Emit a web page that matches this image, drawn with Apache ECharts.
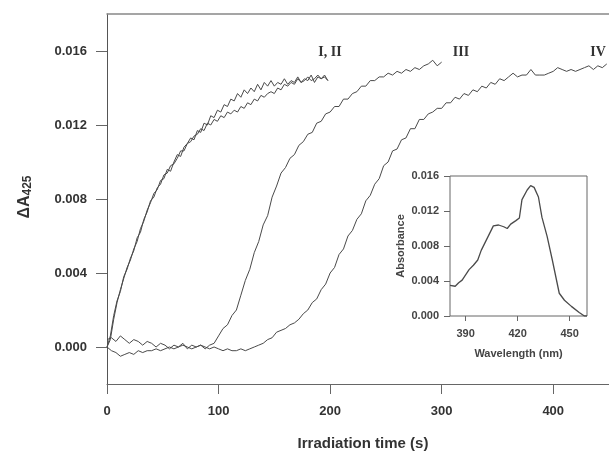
<!DOCTYPE html>
<html>
<head>
<meta charset="utf-8">
<script src="https://cdn.jsdelivr.net/npm/echarts@6/dist/echarts.min.js"></script>
<style>html,body{margin:0;padding:0;background:#fff}#c{width:609px;height:459px}</style>
</head>
<body>
<div id="c"></div>
<script>
// Main kinetics (delta A425, in units of 1e-4), sampled every STEP seconds
const STEP_I = 3;
const curveI = [0,4,15,24,31,37,43,47,53,57,
  64,68,74,78,83,85,90,91,96,95,
  100,104,103,108,110,113,112,117,116,121,
  120,125,124,128,127,131,130,134,133,137,
  135,139,137,140,138,142,139,143,141,144,
  141,143,142,145,142,144,143,146,143,145,
  144,147,143,146,145,147,144];
const curveII = [0,6,17,25,30,38,42,48,52,59,
  62,69,73,79,81,86,88,93,94,98,
  99,102,106,106,110,111,114,115,118,117,
  121,120,123,122,125,124,127,126,128,127,
  130,129,132,131,134,133,136,135,137,138,
  137,140,139,142,141,143,142,145,143,144,
  146,144,145,147,145,146,144];
const STEP_III = 4;
const curveIII = [4,5,3,6,4,2,4,3,1,3,
  2,0,2,1,-1,1,0,2,-1,1,
  0,1,-1,1,2,6,10,12,17,20,
  28,36,42,51,57,66,71,81,87,94,
  97,102,104,109,111,115,116,121,122,126,
  127,130,130,134,134,137,138,141,141,144,
  144,146,146,148,147,149,148,150,149,151,
  150,152,153,155,152,154];
const STEP_IV = 4;
const curveIV = [0,-2,-3,-5,-4,-3,-4,-2,-3,-2,
  -2,-1,-2,-1,0,-1,0,1,0,-1,
  0,1,0,-1,0,-1,-2,-1,-2,-2,
  -1,-2,-1,0,1,2,4,5,8,9,
  10,12,13,15,18,20,24,26,31,34,
  40,43,50,53,60,63,69,72,79,82,
  88,91,98,100,106,107,112,113,118,118,
  123,123,126,127,129,129,132,132,135,134,
  137,136,139,138,141,140,143,142,145,144,
  146,148,146,147,147,150,147,147,147,148,
  149,151,150,149,150,149,150,151,152,150,
  152,151,153];

// Inset spectrum
const wavelengths = [381,384,386,388,390,392,394.5,397,399,401,403,406,409,412,414,416,419,421,422.5,425.5,427.5,429.5,432,434,437,440,444,447,451,455.5,458.5,460];
const absorbance = [0.0035,0.0034,0.0038,0.0041,0.0047,0.0053,0.0058,0.0064,0.0075,0.0083,0.0091,0.0103,0.0104,0.0102,0.0100,0.0105,0.0109,0.0112,0.0133,0.0144,0.0149,0.0147,0.0136,0.0113,0.0091,0.0064,0.0026,0.0018,0.0011,0.0004,0.0000,0.0000];

const mainYTicks = [0, 0.004, 0.008, 0.012, 0.016];
const mainXTicks = [0, 100, 200, 300, 400];
const insetYTicks = [0, 0.004, 0.008, 0.012, 0.016];
const insetXTicks = [390, 420, 450];

function toPairs(arr, step){ return arr.map((v,i)=>[i*step, v/10000]); }

const FONT = 'Liberation Sans, Arial, sans-serif';
const lineCol = '#4a4a4a';
const chart = echarts.init(document.getElementById('c'));
const lineSeries = (data, xi, yi, w) => ({
  type:'line', data, xAxisIndex: xi, yAxisIndex: yi, showSymbol:false, symbol:'none',
  lineStyle:{color: lineCol, width: w}, silent:true, animation:false, z: 3
});

chart.setOption({
  animation:false,
  backgroundColor:'#fff',
  grid:[
    {left:107, top:14, right:0, bottom:75, show:false},
    {left:450, top:176, width:137, height:140, show:true, borderColor:'#666', borderWidth:1, backgroundColor:'#fff', z:4}
  ],
  xAxis:[
    {gridIndex:0, type:'value', min:0, max:450, position:'bottom',
      axisLine:{show:true, onZero:false, lineStyle:{color:'#666', width:1}},
      axisTick:{show:true, length:10, customValues: mainXTicks, lineStyle:{color:'#666'}},
      axisLabel:{customValues: mainXTicks, margin:21, fontFamily:FONT, fontWeight:'bold', fontSize:13, color:'#333'},
      splitLine:{show:false},
      name:'Irradiation time (s)', nameLocation:'middle', nameGap:52,
      nameTextStyle:{fontFamily:FONT, fontWeight:'bold', fontSize:15, color:'#333', padding:[0,0,0,10]}
    },
    {gridIndex:0, type:'value', min:0, max:450, position:'top',
      axisLine:{show:true, onZero:false, lineStyle:{color:'#888', width:1.5}},
      axisTick:{show:false}, axisLabel:{show:false}, splitLine:{show:false}},
    {gridIndex:1, type:'value', min:381, max:460,
      axisLine:{show:false}, 
      axisTick:{show:true, length:5, customValues: insetXTicks, lineStyle:{color:'#666'}},
      axisLabel:{customValues: insetXTicks, margin:12, fontFamily:FONT, fontWeight:'bold', fontSize:11, color:'#444'},
      splitLine:{show:false},
      name:'Wavelength (nm)', nameLocation:'middle', nameGap:32,
      nameTextStyle:{fontFamily:FONT, fontWeight:'bold', fontSize:11, color:'#444'}
    }
  ],
  yAxis:[
    {gridIndex:0, type:'value', min:-0.002, max:0.018,
      axisLine:{show:true, onZero:false, lineStyle:{color:'#555', width:1}},
      axisTick:{show:true, length:11, customValues: mainYTicks, lineStyle:{color:'#666'}},
      axisLabel:{customValues: mainYTicks, margin:20, formatter:v=>v.toFixed(3), fontFamily:FONT, fontWeight:'bold', fontSize:13, color:'#333'},
      splitLine:{show:false}
    },
    {gridIndex:1, type:'value', min:0, max:0.016,
      axisLine:{show:false},
      axisTick:{show:true, length:6, customValues: insetYTicks, lineStyle:{color:'#666'}},
      axisLabel:{customValues: insetYTicks, margin:11, formatter:v=>v.toFixed(3), fontFamily:FONT, fontWeight:'bold', fontSize:11, color:'#444'},
      splitLine:{show:false},
      name:'Absorbance', nameLocation:'middle', nameGap:44, nameRotate:90,
      nameTextStyle:{fontFamily:FONT, fontWeight:'bold', fontSize:11, color:'#444'}
    }
  ],
  series:[
    lineSeries(toPairs(curveI, STEP_I), 0, 0, 1),
    lineSeries(toPairs(curveII, STEP_I), 0, 0, 1),
    lineSeries(toPairs(curveIII, STEP_III), 0, 0, 1),
    lineSeries(toPairs(curveIV, STEP_IV), 0, 0, 1),
    Object.assign(lineSeries(wavelengths.map((w,i)=>[w, absorbance[i]]), 2, 1, 1.3), {z:5})
  ],
  graphic:[
    {type:'text', x:25, y:197, rotation:Math.PI/2, z:10,
      style:{text:'{a|ΔA}{s|425}', align:'center', verticalAlign:'middle',
        rich:{a:{fontFamily:FONT, fontWeight:'bold', fontSize:16, fill:'#333'},
              s:{fontFamily:FONT, fontWeight:'bold', fontSize:12, fill:'#333', padding:[6,0,0,0]}}}},
    {type:'text', x:330, y:52, z:10, style:{text:'I, II', align:'center', verticalAlign:'middle', font:'bold 14px "Liberation Serif", "Times New Roman", serif', fill:'#333'}},
    {type:'text', x:461, y:52, z:10, style:{text:'III', align:'center', verticalAlign:'middle', font:'bold 14px "Liberation Serif", "Times New Roman", serif', fill:'#333'}},
    {type:'text', x:598, y:52, z:10, style:{text:'IV', align:'center', verticalAlign:'middle', font:'bold 14px "Liberation Serif", "Times New Roman", serif', fill:'#333'}}
  ]
});
</script>
</body>
</html>
